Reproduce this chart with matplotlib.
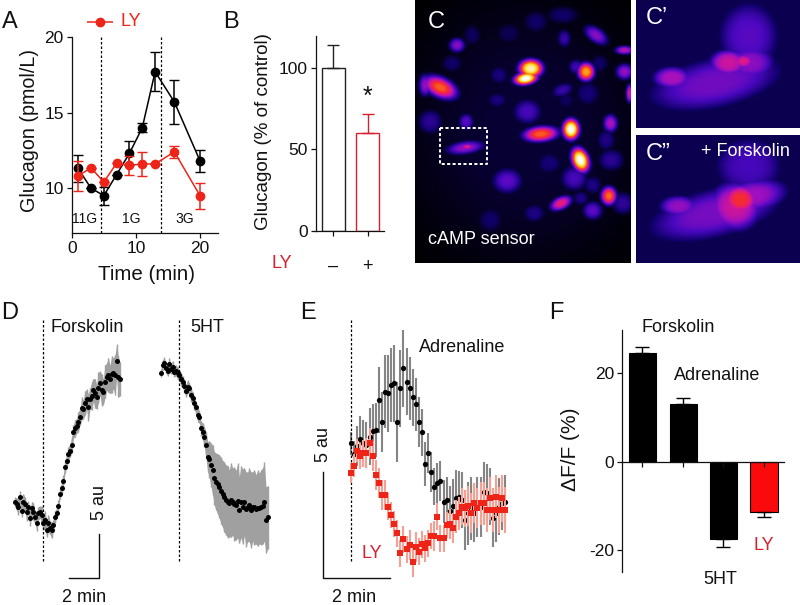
import numpy as np
import matplotlib
matplotlib.use("Agg")
import matplotlib.pyplot as plt
from matplotlib.colors import LinearSegmentedColormap

plt.rcParams['font.family'] = ['Liberation Sans', 'DejaVu Sans']
W, H = 800, 605
RED = '#ee2418'
DRED = '#d8202c'
INK = '#111111'

# Panel A
a_time = [1, 3, 5, 7, 9, 11, 13, 16, 20]
a_ctrl = [11.3, 10.0, 9.5, 10.9, 12.3, 14.0, 17.7, 15.7, 11.8]
a_ctrl_err = [0.9, 0, 0.6, 0, 0.8, 0.3, 1.3, 1.45, 0.75]
a_ly = [10.8, 11.35, 10.4, 11.65, 11.5, 11.6, 11.6, 12.4, 9.5]
a_ly_err = [1.0, 0, 0, 0, 0.6, 0.8, 0, 0.4, 0.85]
a_switch = [4.6, 13.95]

# Panel B
b_values = [100, 60]
b_err = [14, 12]
b_labels = ['\u2013', '+']

# Panel D (raw signal; 132 units = 5 au, 92 units = 2 min)
d_fsk = [193,188,178,208,168,195,188,164,178,145,
         175,165,150,132,160,163,155,132,140,110,
         130,117,110,125,150,160,182,218,235,258,
         300,318,338,348,365,405,415,422,435,448,
         475,472,490,502,478,504,512,530,520,510,
         537,550,530,525,555,570,575,562,577,580,
         575,617,570,563]
d_fsk_err = [15,18,24,20,18,24,20,26,18,24,
             20,26,18,24,20,18,26,22,28,20,
             26,20,24,16,18,14,18,14,18,16,
             20,16,22,18,24,20,26,22,30,24,
             34,28,36,30,40,32,42,34,44,36,
             46,36,48,38,50,40,52,42,56,46,
             60,50,62,50]
d_5ht = [582,605,610,595,588,608,592,600,585,588,
         580,575,562,555,542,528,540,535,515,505,
         490,478,455,450,415,405,390,365,330,322,
         305,290,265,255,248,240,228,218,208,200,
         195,190,200,195,188,185,198,170,195,180,
         195,172,180,185,170,180,178,172,175,175,
         178,182,195,140,148]
d_5ht_err = [12,15,18,14,16,18,14,18,15,16,
             18,15,20,16,20,18,20,16,20,18,
             20,16,20,18,22,25,30,40,45,55,
             65,75,80,85,90,95,100,100,105,105,
             108,100,112,100,110,104,112,100,108,112,
             102,112,104,110,114,104,112,104,114,106,
             112,114,118,100,95]

# Panel E (raw signal; 316 units = 5 au, 202 units = 2 min)
e_adr = [470,438,462,482,470,465,490,508,510,600,
         535,625,620,645,650,535,635,695,655,635,
         608,587,535,503,408,442,385,340,352,358,
         295,300,268,282,305,308,300,240,260,275,
         260,280,280,325,322,310,245,260,280,290,295]
e_adr_err = [35,40,60,70,70,70,85,80,80,100,
             90,110,115,110,115,120,115,115,100,95,
             85,80,75,70,65,60,60,55,60,60,
             65,70,75,80,85,80,85,90,95,95,
             85,90,90,90,85,85,85,85,85,80,80]
e_ly = [382,403,448,432,440,440,472,432,375,350,
        315,315,280,255,228,200,140,182,152,165,
        115,160,145,167,155,170,192,192,250,185,
        185,225,228,215,250,260,280,275,282,260,
        292,275,290,290,270,305,270,310,270,305,270]
e_ly_err = [30,35,35,40,40,45,45,45,45,45,
            45,45,40,40,40,40,40,40,40,45,
            45,45,40,40,40,40,40,45,40,40,
            40,40,45,45,50,50,55,55,60,60,
            60,60,65,65,65,65,65,65,70,70,70]

# Panel F
f_values = [24.5, 13.0, -17.5, -11.3]
f_err = [1.4, 1.4, 1.8, 1.3]
f_colors = ['black', 'black', 'black', '#fa0a0a']

# Panel C: cells of the fluorescence images: x, y, rx, ry, angle, intensity
c_cell_x = [345,330,510,75,30,465,375,493,578,435,150,155,152,583,625,625,640,125,540,445,
            335,275,475,530,585,45,440,355,495,530,620,250,245,480,515,570,400,110,170,280,
            360,440,225,450,550,330]
c_cell_y = [205,235,215,262,255,388,402,480,588,610,443,440,365,370,150,215,280,135,105,115,
            335,543,535,632,480,365,270,640,595,555,610,225,300,200,280,420,490,190,105,100,
            65,45,660,300,190,400]
c_cell_rx = [34,34,24,50,18,24,50,24,22,32,52,17,20,20,26,24,10,22,36,18,
             38,40,36,27,35,33,30,30,22,25,30,25,27,20,34,25,35,30,25,35,
             35,45,35,25,25,330]
c_cell_ry = [26,18,26,28,30,30,22,36,26,18,18,7,22,25,12,22,26,20,20,24,
             34,34,34,25,30,33,18,25,20,25,30,25,20,20,34,30,30,25,30,30,
             30,25,35,25,25,370]
c_cell_ang = [0,-10,0,25,0,0,-5,-20,0,-25,-8,0,0,0,0,0,0,0,35,0,
              0,0,0,0,0,0,-20,0,0,0,0,0,0,0,0,0,0,0,0,0,
              0,0,0,0,0,0]
c_cell_amp = [0.95,1.0,0.76,0.66,0.36,1.0,0.66,1.0,0.68,0.52,0.36,0.52,0.27,0.40,0.42,0.36,0.46,0.34,0.34,0.2,
              0.24,0.28,0.24,0.28,0.17,0.17,0.2,0.14,0.14,0.14,0.18,0.13,0.13,0.22,0.12,0.14,0.12,0.1,0.09,0.08,
              0.1,0.1,0.1,0.09,0.1,0.05]
c1_cell_x = [1000,900,1005,770,940,985]
c1_cell_y = [110,250,190,235,190,185]
c1_cell_rx = [85,190,70,55,55,28]
c1_cell_ry = [95,70,48,32,38,20]
c1_cell_ang = [0,-12,0,0,0,0]
c1_cell_amp = [0.27,0.31,0.35,0.40,0.46,0.50]
c2_cell_x = [1000,900,1010,960,975,790]
c2_cell_y = [500,640,590,620,600,620]
c2_cell_rx = [95,190,100,75,50,55]
c2_cell_ry = [80,68,48,70,42,30]
c2_cell_ang = [0,-14,-10,0,0,0]
c2_cell_amp = [0.24,0.32,0.38,0.46,0.60,0.36]

fire = LinearSegmentedColormap.from_list('fire', [
    (0.0, '#000002'), (0.1, '#10006a'), (0.25, '#4a08c0'), (0.38, '#a010c0'),
    (0.5, '#e0188a'), (0.6, '#f52c30'), (0.72, '#ff8a10'), (0.85, '#ffd820'), (1.0, '#ffffff')])


def cell_image(x0, x1, y0, y1, xs, ys, rxs, rys, angs, amps, base, power):
    gx, gy = np.meshgrid(np.arange(x0, x1, 1.5), np.arange(y0, y1, 1.5))
    img = np.full(gx.shape, base)
    for x, y, rx, ry, ang, amp in zip(xs, ys, rxs, rys, angs, amps):
        t = np.radians(ang)
        u = (gx - x) * np.cos(t) + (gy - y) * np.sin(t)
        v = -(gx - x) * np.sin(t) + (gy - y) * np.cos(t)
        img = np.maximum(img, amp * np.exp(-((u / rx) ** 2 + (v / ry) ** 2) ** power))
    return img


fig = plt.figure(figsize=(W / 100, H / 100), dpi=100, facecolor='white')


def ax_at(x0, y0, x1, y1):
    return fig.add_axes([x0 / W, 1 - y1 / H, (x1 - x0) / W, (y1 - y0) / H])


def label(x, y, s, size=13, color=INK, ha='center', rot=0):
    fig.text(x / W, 1 - y / H, s, fontsize=size, color=color, ha=ha, va='center', rotation=rot)


def style(ax, size=12.5):
    for k in ('top', 'right'):
        ax.spines[k].set_visible(False)
    for k in ('left', 'bottom'):
        ax.spines[k].set_linewidth(0.9)
        ax.spines[k].set_color(INK)
    ax.tick_params(length=3.8, width=0.9, labelsize=size, colors=INK, pad=2)
    ax.patch.set_alpha(0)


# A
ax = ax_at(71.7, 37, 218, 233)
style(ax)
ax.set_xlim(0, 22.8)
ax.set_ylim(7.03, 20)
for xs in a_switch:
    ax.axvline(xs, color='black', lw=0.9, ls=(0, (2, 1.6)))
for ys, es, c, z in ((a_ctrl, a_ctrl_err, 'black', 3), (a_ly, a_ly_err, RED, 4)):
    ax.errorbar(a_time, ys, yerr=es, color=c, lw=1.1, marker='o', ms=6.0, capsize=3.6,
                capthick=1.0, elinewidth=1.1, zorder=z, clip_on=False)
ax.set_xticks([0, 10, 20])
ax.set_yticks([10, 15, 20])
label(85, 219, '11G', 10)
label(131, 219, '1G', 10)
label(185, 219, '3G', 10)
label(30, 131, 'Glucagon (pmol/L)', 14.2, rot=90)
label(147, 274, 'Time (min)', 14.8)
label(10, 22, 'A', 17)
lax = ax_at(87, 17, 113, 27)
lax.axis('off')
lax.set_xlim(0, 2)
lax.set_ylim(-1, 1)
lax.plot([0, 2], [0, 0], color=RED, lw=1.1)
lax.plot([1], [0], 'o', color=RED, ms=6.0)
label(120, 22, 'LY', 13, RED, ha='left')

# B
ax = ax_at(316, 35.7, 384, 230.7)
style(ax)
ax.set_xlim(0, 68)
ax.set_ylim(0, 120)
b_pos = [17, 51.7]
ax.bar(b_pos, b_values, width=23, facecolor='white', edgecolor=['#222222', DRED], lw=1.0)
ax.errorbar(b_pos[0], b_values[0], yerr=[[0], [b_err[0]]], color='#222222', capsize=4.5, lw=1.0)
ax.errorbar(b_pos[1], b_values[1], yerr=[[0], [b_err[1]]], color=DRED, capsize=4.5, lw=1.0)
ax.set_xticks(b_pos)
ax.set_xticklabels(b_labels, fontsize=13)
ax.tick_params(axis='x', pad=16)
ax.set_yticks([0, 50, 100])
label(263, 132, 'Glucagon (% of control)', 13.5, rot=90)
label(282, 264, 'LY', 13, DRED)
label(367, 97, '*', 18)
label(231, 22, 'B', 17)

# C
ax = ax_at(415, 0, 630, 263)
ax.imshow(cell_image(0, 645, 0, 790, c_cell_x, c_cell_y, c_cell_rx, c_cell_ry, c_cell_ang, c_cell_amp, 0.0, 1.5),
          cmap=fire, vmin=0, vmax=1, aspect='auto', interpolation='bilinear')
ax.axis('off')
ax = ax_at(636, 0, 800, 128)
ax.imshow(cell_image(662, 1155, 0, 385, c1_cell_x, c1_cell_y, c1_cell_rx, c1_cell_ry, c1_cell_ang, c1_cell_amp, 0.075, 1.8),
          cmap=fire, vmin=0, vmax=1, aspect='auto', interpolation='bilinear')
ax.axis('off')
ax = ax_at(636, 135, 800, 263)
ax.imshow(cell_image(662, 1155, 405, 790, c2_cell_x, c2_cell_y, c2_cell_rx, c2_cell_ry, c2_cell_ang, c2_cell_amp, 0.075, 1.8),
          cmap=fire, vmin=0, vmax=1, aspect='auto', interpolation='bilinear')
ax.axis('off')
label(436, 22, 'C', 17, 'white')
label(428, 240, 'cAMP sensor', 13, 'white', ha='left')
label(646, 18, 'C\u2019', 17, 'white', ha='left')
label(646, 154, 'C\u201d', 17, 'white', ha='left')
label(701, 152, '+ Forskolin', 13, 'white', ha='left')
bx = ax_at(415, 0, 630, 263)
bx.axis('off')
bx.set_xlim(0, 645)
bx.set_ylim(790, 0)
bx.plot([76, 215, 215, 76, 76], [385, 385, 493, 493, 385], color='white', lw=1.4, ls=(0, (1.6, 1.2)))

# D
ax = ax_at(0, 300, 290, 605)
ax.axis('off')
ax.set_xlim(0, 870)
ax.set_ylim(-115, 800)
for start, ys, es in ((45, d_fsk, d_fsk_err), (483, d_5ht, d_5ht_err)):
    t = start + 5 * np.arange(len(ys))
    ys, es = np.array(ys), np.array(es)
    ax.fill_between(t, ys - es, ys + es, color='#a0a0a0', lw=0)
    ax.vlines(t, ys - es, ys + es, color='#a0a0a0', lw=1.0)
    ax.plot(t, ys, 'o', color='black', ms=3.6, mew=0, zorder=4)
for xv in (130, 536):
    ax.plot([xv, xv], [740, 10], color='black', lw=0.9, ls=(0, (2, 1.6)))
ax.plot([206, 298, 298], [-35, -35, 97], color=INK, lw=1.0)
label(87, 328, 'Forskolin', 13)
label(207, 328, '5HT', 13)
label(99, 503, '5 au', 13, rot=90)
label(84, 597, '2 min', 13)
label(10, 313, 'D', 17)

# E
ax = ax_at(300, 300, 530, 605)
ax.axis('off')
ax.set_xlim(0, 690)
ax.set_ylim(-15, 900)
t = 153 + 9.25 * np.arange(len(e_adr))
ys, es = np.array(e_adr), np.array(e_adr_err)
ax.vlines(t, ys - es, ys + es, color='#858585', lw=1.5)
ax.plot(t, ys, 'o', color='black', ms=3.8, mew=0, zorder=4)
ys, es = np.array(e_ly), np.array(e_ly_err)
ax.vlines(t, ys - es, ys + es, color='#f4a094', lw=1.5, zorder=5)
ax.plot(t, ys, 's', color=RED, ms=3.8, mew=0, zorder=6)
ax.plot([153, 153], [840, 110], color='black', lw=0.9, ls=(0, (2, 1.6)), zorder=3)
ax.plot([68, 68, 270], [383, 67, 67], color=INK, lw=1.0)
label(324, 444, '5 au', 13, rot=90)
label(354, 597, '2 min', 13)
label(462, 347, 'Adrenaline', 13)
label(372, 553, 'LY', 13, DRED)
label(308, 313, 'E', 17)

# F
ax = ax_at(622.3, 330, 783.7, 571.7)
style(ax)
ax.set_xlim(0, 161.4)
ax.set_ylim(-24.9, 29.8)
ax.spines['bottom'].set_position(('data', 0))
f_pos = [20, 61, 101, 141.5]
ax.bar(f_pos, f_values, width=27.5, color=f_colors, edgecolor='black', lw=0.8)
for x, v, e in zip(f_pos, f_values, f_err):
    ax.errorbar(x, v, yerr=[[e if v < 0 else 0], [e if v > 0 else 0]], color='black',
                capsize=5.2, lw=1.0, capthick=1.0)
ax.set_xticks(f_pos)
ax.set_xticklabels([])
ax.set_yticks([-20, 0, 20])
ax.set_yticklabels(['-20', '0', '20'])
label(570, 449, '\u0394F/F (%)', 15, rot=90)
label(678, 327, 'Forskolin', 13)
label(717, 375, 'Adrenaline', 13)
label(720, 579, '5HT', 13)
label(764, 546, 'LY', 13, DRED)
label(556, 313, 'F', 17)

fig.savefig('out.png', dpi=100)
